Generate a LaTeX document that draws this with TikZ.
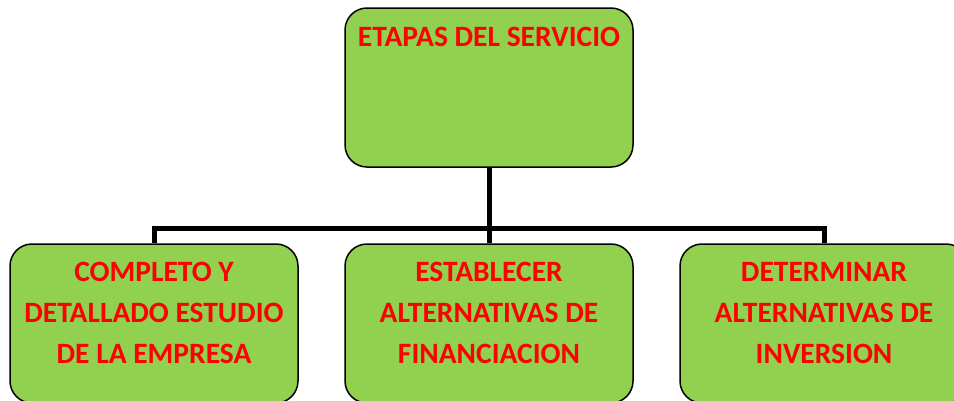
\documentclass[tikz,border=0pt]{standalone}
\usepackage{fontspec}
\setmainfont{Carlito}
\usepackage{tikz}
\usetikzlibrary{positioning,calc}
\usepackage{xcolor}
\definecolor{etgreen}{RGB}{146,208,80}
\definecolor{etred}{RGB}{255,0,0}
\tikzstyle{stage} = [rectangle, rounded corners=22pt, minimum width=288pt, minimum height=159pt, draw=black, fill=etgreen, line width=1.5pt]
\tikzstyle{stagetext} = [text=etred, align=center, inner sep=0pt, font=\fontsize{29.5}{41}\selectfont\bfseries]
\tikzstyle{connector} = [line width=5pt, color=black]

\begin{document}
\begin{tikzpicture}[x=1pt, y=-1pt]
    \useasboundingbox (0,0) rectangle (954,400);
    \clip (0,0) rectangle (954,400);

    % Top box
    \node[stage] (top) at (489,87.5) {};
    \node[stagetext, below=20pt of top.north, anchor=north] (toptext) {ETAPAS DEL SERVICIO};

    % Bottom boxes
    \node[stage] (estudio) at (154,323.5) {};
    \node[stage] (financ) at (489,323.5) {};
    \node[stage] (invers) at (824,323.5) {};
    \node[stagetext, below=19pt of estudio.north, anchor=north] {COMPLETO Y\\DETALLADO ESTUDIO\\DE LA EMPRESA};
    \node[stagetext, below=19pt of financ.north, anchor=north] {ESTABLECER\\ALTERNATIVAS DE\\FINANCIACION};
    \node[stagetext, below=19pt of invers.north, anchor=north] {DETERMINAR\\ALTERNATIVAS DE\\INVERSION};

    % Connectors
    \coordinate (bus) at (489,228);
    \draw[connector] (top.south) -- (financ.north);
    \draw[connector] (estudio.north) |- (bus) -| (invers.north);
\end{tikzpicture}
\end{document}
